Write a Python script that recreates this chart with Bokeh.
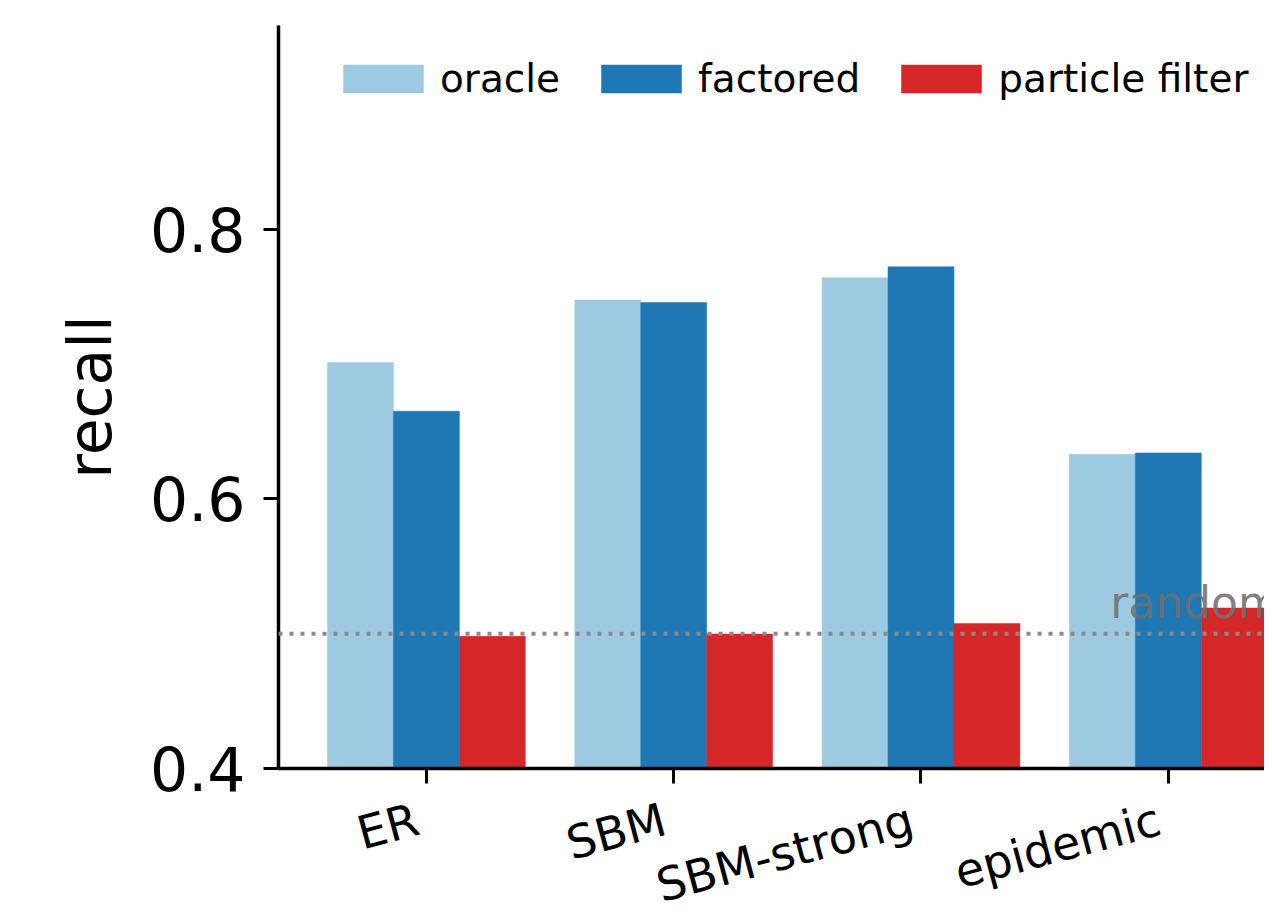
import numpy as np
from bokeh.plotting import figure
from bokeh.layouts import column
from bokeh.models import FixedTicker, Span, Range1d
from bokeh.core.properties import value
from bokeh.embed import file_html
from bokeh.resources import INLINE

categories = ["ER", "SBM", "SBM-strong", "epidemic"]
oracle = [0.701, 0.7475, 0.764, 0.633]
factored = [0.665, 0.7456, 0.772, 0.634]
particle_filter = [0.498, 0.4997, 0.5076, 0.519]
series_names = ["oracle", "factored", "particle filter"]
series_colors = ["#9ecae1", "#1f77b4", "#d62728"]
random_level = 0.5
random_label = "random"
y_ticks = [0.4, 0.6, 0.8]

FONT = "DejaVu Sans"
idx = np.arange(len(categories))
bar_w = 0.8 / 3
Y0 = 0.4
W, H_MAIN, H_LAB = 1264, 794, 116

xr = Range1d(-0.598, 3.389)
p = figure(width=W, height=H_MAIN, output_backend="svg", toolbar_location=None,
           x_range=xr, y_range=Range1d(Y0, 0.951),
           min_border_left=278, min_border_top=25, min_border_bottom=26,
           min_border_right=0)
p.outline_line_color = None
p.xgrid.visible = False
p.ygrid.visible = False
p.background_fill_color = "white"
p.border_fill_color = "white"

for k, (vals, name, col) in enumerate(zip([oracle, factored, particle_filter], series_names, series_colors)):
    p.vbar(x=idx + (k - 1) * bar_w, top=vals, bottom=Y0, width=bar_w,
           fill_color=col, line_color=col, line_width=0.5, legend_label=name)

p.add_layout(Span(location=random_level, dimension="width", line_color="#8a8a8a",
                  line_width=4, line_dash="4 7"))

p.text(x=[2.765], y=[0.523], text=[random_label], text_font=value(FONT),
       text_font_size="44px", text_color="#707070", text_alpha=0.9,
       text_baseline="alphabetic", text_align="left")

# axes
for ax in (p.xaxis[0], p.yaxis[0]):
    ax.axis_line_width = 3.5
    ax.axis_line_color = "black"
    ax.major_tick_line_width = 3
    ax.major_tick_line_color = "black"
    ax.major_tick_out = 15
    ax.major_tick_in = 0
    ax.minor_tick_line_color = None
    ax.major_label_text_font = FONT
    ax.major_label_text_color = "black"
    ax.axis_label_text_font = FONT
    ax.axis_label_text_color = "black"
    ax.axis_label_text_font_style = "normal"

p.yaxis.ticker = FixedTicker(ticks=y_ticks)
p.yaxis.major_label_text_font_size = "60px"
p.yaxis.major_label_standoff = 18
p.yaxis.axis_label = "recall"
p.yaxis.axis_label_text_font_size = "60px"
p.yaxis.axis_label_standoff = 22

# x axis ticks here; rotated category names in a strip right below
p.xaxis.ticker = FixedTicker(ticks=list(idx))
p.xaxis.major_label_overrides = {int(i): "" for i in idx}
p.xaxis.major_label_text_font_size = "4px"
p.xaxis.major_label_standoff = 0

lg = p.legend[0]
lg.orientation = "horizontal"
lg.border_line_color = None
lg.background_fill_alpha = 0
lg.glyph_width = 100
lg.glyph_height = 35
lg.label_text_font = FONT
lg.label_text_font_size = "39px"
lg.label_text_color = "black"
lg.label_standoff = 7
lg.spacing = 31
lg.padding = 0
lg.margin = 0
lg.location = (55, 667)

# label strip (y in pixels from the top of the strip)
p2 = figure(width=W, height=H_LAB, output_backend="svg", toolbar_location=None,
            x_range=xr, y_range=Range1d(H_LAB, 0),
            min_border_left=278, min_border_top=0, min_border_bottom=0,
            min_border_right=0)
p2.axis.visible = False
p2.grid.visible = False
p2.outline_line_color = None
p2.background_fill_color = "white"
p2.border_fill_color = "white"
p2.text(x=idx, y=[5] * len(categories), text=categories,
        angle=15 * np.pi / 180, text_align="right", text_baseline="top",
        x_offset=-16, y_offset=-7,
        text_font=value(FONT), text_font_size="46px", text_color="black")

layout = column(p, p2, spacing=0)
open("out.html", "w").write(file_html(layout, INLINE))
